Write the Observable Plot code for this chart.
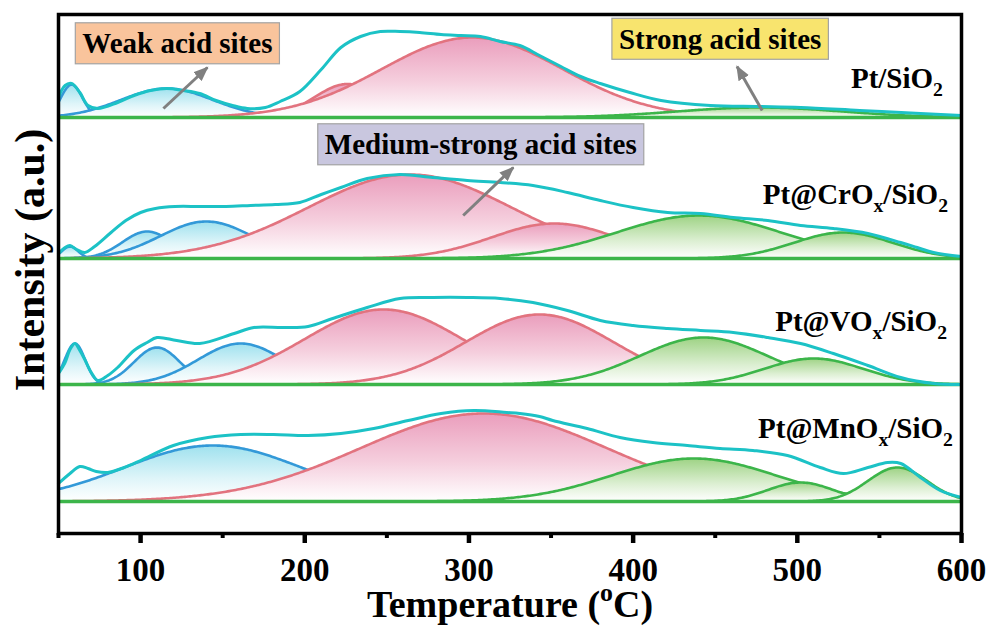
<!DOCTYPE html>
<html>
<head>
<meta charset="utf-8">
<script src="https://cdn.jsdelivr.net/npm/d3@7"></script>
<script src="https://cdn.jsdelivr.net/npm/@observablehq/plot@0.6"></script>
<style>
  html, body { margin: 0; padding: 0; background: #fff; overflow: hidden; }
  #chart { width: 993px; height: 626px; }
</style>
</head>
<body>
<div id="chart"></div>
<script>
// NH3-TPD profiles of four catalysts with their deconvoluted acid-site components.

const temperatureTicks = [100, 200, 300, 400, 500, 600];
const minorTicks = [50, 150, 250, 350, 450, 550];
const samples = ["Pt/SiO_2", "Pt@CrO_x/SiO_2", "Pt@VO_x/SiO_2", "Pt@MnO_x/SiO_2"];
const siteLabels = ["Weak acid sites", "Medium-strong acid sites", "Strong acid sites"];

// Measured desorption signals (temperature in °C, intensity in a.u.)
const ptSiO2Temp = [50, 54, 58, 63, 68, 74, 86, 96, 106, 116, 126, 136, 146, 156, 165, 176, 185, 197, 210, 222, 234, 246, 258, 270, 283, 295, 307, 319, 331, 343, 356, 368, 380, 398, 417, 447, 477, 502, 538, 575, 600];
const ptSiO2Signal = [20, 32, 34, 25, 12, 9, 15, 22, 27, 29, 27, 24, 17, 12, 9, 10, 16, 26, 48, 70, 81, 86, 86, 85, 83, 82, 81, 76, 72, 62, 51, 41, 34, 25, 17, 12, 11, 10, 7, 4, 2];

const crTemp = [50, 54, 57, 61, 66, 72, 82, 91, 100, 109, 121, 136, 152, 167, 182, 197, 210, 222, 238, 258, 278, 299, 319, 339, 360, 380, 400, 421, 441, 461, 482, 502, 522, 543, 563, 573, 583, 600];
const crSignal = [5, 11, 13, 9, 6, 12, 26, 38, 46, 50, 52, 52, 52, 53, 54, 56, 64, 71, 80, 84, 81, 78, 76, 73, 66, 58, 51, 46, 45, 41, 38, 33, 30, 25, 16, 11, 6, 2];

const vTemp = [50, 54, 57, 60, 63, 66, 70, 74, 80, 86, 96, 104, 110, 122, 136, 157, 169, 187, 202, 217, 238, 258, 278, 299, 319, 339, 360, 380, 400, 421, 441, 461, 482, 502, 522, 543, 563, 583, 600];
const vSignal = [11, 22, 35, 41, 34, 25, 12, 4, 9, 17, 34, 42, 47, 44, 41, 51, 57, 57, 58, 66, 77, 86, 87, 87, 86, 82, 74, 64, 59, 56, 54, 52, 47, 41, 31, 19, 7, 1, 0];

const mnTemp = [50, 57, 63, 68, 73, 80, 90, 100, 120, 141, 161, 181, 202, 222, 242, 263, 283, 303, 323, 331, 343, 351, 372, 392, 412, 433, 453, 473, 494, 514, 528, 543, 555, 563, 575, 587, 600];
const mnSignal = [18, 28, 35, 33, 30, 29, 34, 41, 56, 64, 67, 67, 66, 68, 73, 81, 88, 91, 89, 88, 85, 81, 73, 64, 59, 56, 53, 51, 46, 34, 28, 34, 39, 38, 24, 11, 4];

// Fitted Gaussian components: centre (°C), height (a.u.), width = standard deviation (°C)
const ptSiO2Peaks = [
  {site: "weak", center: 58, height: 33, width: 6.5},
  {site: "weak", center: 116, height: 29, width: 28},
  {site: "medium", center: 226, height: 33.5, width: 20},
  {site: "medium", center: 302, height: 80, width: 55},
  {site: "strong", center: 477, height: 10, width: 50}
];
const crPeaks = [
  {site: "weak", center: 57, height: 12, width: 5},
  {site: "weak", center: 104, height: 27, width: 15},
  {site: "weak", center: 140, height: 37, width: 28},
  {site: "medium", center: 264, height: 84, width: 62},
  {site: "medium", center: 352, height: 35, width: 38},
  {site: "strong", center: 440, height: 43, width: 50},
  {site: "strong", center: 528, height: 26, width: 30}
];
const vPeaks = [
  {site: "weak", center: 60, height: 41, width: 6.2},
  {site: "weak", center: 110, height: 37, width: 14},
  {site: "weak", center: 161, height: 41, width: 26},
  {site: "medium", center: 248, height: 75, width: 48},
  {site: "medium", center: 343, height: 70, width: 45},
  {site: "strong", center: 443, height: 47, width: 39},
  {site: "strong", center: 510, height: 26, width: 30}
];
const mnPeaks = [
  {site: "weak", center: 144, height: 56, width: 54},
  {site: "medium", center: 309, height: 88, width: 75},
  {site: "strong", center: 437, height: 43, width: 50},
  {site: "strong", center: 502, height: 19, width: 20},
  {site: "strong", center: 561, height: 34, width: 18}
];

// ---- layout ----
const panels = [
  {temp: ptSiO2Temp, signal: ptSiO2Signal, peaks: ptSiO2Peaks},
  {temp: crTemp, signal: crSignal, peaks: crPeaks},
  {temp: vTemp, signal: vSignal, peaks: vPeaks},
  {temp: mnTemp, signal: mnSignal, peaks: mnPeaks}
];
const stackOffsets = [416, 275, 149, 32];      // vertical offset of each stacked profile
const sampleLabelRise = [30, 55, 54, 64];      // label baseline above each profile's baseline
const sampleLabelX = [588.7, 591.8, 591.2, 594.8];
const siteLabelX = [122.4, 307.2, 453];
const siteLabelY = [489.5, 388.5, 494];
const siteBoxFill = ["#f9c49c", "#c9c7df", "#f8e46e"];
const pointerFrom = [[113.9, 425], [296.5, 318], [478.6, 423]];
const pointerTo = [[140.7, 466], [327, 366], [463.3, 467]];

const serif = '"Times New Roman", "Liberation Serif", serif';
const envelopeColor = "#1cc2c6";
const siteStyle = {
  weak: {stroke: "#3399d8", fill: "url(#grad-weak)"},
  medium: {stroke: "#e2737f", fill: "url(#grad-medium)"},
  strong: {stroke: "#3cb54a", fill: "url(#grad-strong)"}
};

const grid = d3.range(50, 600.001, 1);
const component = (p) => grid.map(t => ({t, v: p.height * Math.exp(-((t - p.center) ** 2) / (2 * p.width ** 2))}));

const marks = [];
panels.forEach((panel, i) => {
  const base = stackOffsets[i];
  // each component: gradient fill, then its outline; later fills hide earlier outlines
  panel.peaks.forEach(p => {
    const pts = component(p);
    const s = siteStyle[p.site];
    marks.push(Plot.areaY(pts, {x: "t", y1: base, y2: d => base + d.v, fill: s.fill}));
    marks.push(Plot.line(pts, {x: "t", y: d => base + d.v, stroke: s.stroke, strokeWidth: 2.6}));
  });
  marks.push(Plot.ruleY([base], {stroke: siteStyle.strong.stroke, strokeWidth: 3.6}));
  const env = panel.temp.map((t, k) => ({t, v: base + panel.signal[k]}));
  marks.push(Plot.line(env, {x: "t", y: "v", curve: "catmull-rom", stroke: envelopeColor, strokeWidth: 3}));
});

marks.push(
  Plot.text(samples, {
    x: (d, i) => sampleLabelX[i], y: (d, i) => stackOffsets[i] + sampleLabelRise[i], text: d => d,
    textAnchor: "end", lineAnchor: "bottom", fontSize: 29, fontWeight: "bold", fill: "black"
  }),
  Plot.text(siteLabels, {
    x: (d, i) => siteLabelX[i], y: (d, i) => siteLabelY[i], text: d => d,
    fontSize: 29, fontWeight: "bold", fill: "black"
  }),
  Plot.link(siteLabels, {
    x1: (d, i) => pointerFrom[i][0], y1: (d, i) => pointerFrom[i][1],
    x2: (d, i) => pointerTo[i][0], y2: (d, i) => pointerTo[i][1],
    stroke: "#808080", strokeWidth: 3
  }),
  Plot.frame({stroke: "black", strokeWidth: 3.5}),
  Plot.axisX(temperatureTicks, {tickSize: 10, tickPadding: 14, strokeWidth: 4.5, fontSize: 33, fontWeight: "bold", label: null}),
  Plot.axisX(minorTicks, {tickSize: 5, strokeWidth: 4, tickFormat: () => "", label: null}),
  Plot.text(["Temperature (^oC)"], {frameAnchor: "bottom", dy: 83, lineAnchor: "bottom", fontSize: 38, fontWeight: "bold", fill: "black"}),
  Plot.text(["Intensity (a.u.)"], {frameAnchor: "left", textAnchor: "middle", dx: -28, dy: -14, rotate: -90, fontSize: 42, fontWeight: "bold", fill: "black"})
);

const chart = Plot.plot({
  width: 993,
  height: 626,
  marginLeft: 58,
  marginRight: 32,
  marginTop: 14,
  marginBottom: 93,
  x: {domain: [50, 600]},
  y: {domain: [0, 519], axis: null},
  style: {fontFamily: serif, fontWeight: "bold", background: "white", color: "black", overflow: "visible"},
  marks
});
document.getElementById("chart").append(chart);

// ---- gradients and arrowhead ----
const NS = "http://www.w3.org/2000/svg";
const defs = document.createElementNS(NS, "defs");
defs.innerHTML = `
  <linearGradient id="grad-weak" x1="0" y1="0" x2="0" y2="1">
    <stop offset="0" stop-color="#9ee1ee"/><stop offset="0.6" stop-color="#dff5f9"/><stop offset="1" stop-color="#ffffff"/>
  </linearGradient>
  <linearGradient id="grad-medium" x1="0" y1="0" x2="0" y2="1">
    <stop offset="0" stop-color="#ea9dbc"/><stop offset="0.55" stop-color="#f5cedd"/><stop offset="1" stop-color="#ffffff"/>
  </linearGradient>
  <linearGradient id="grad-strong" x1="0" y1="0" x2="0" y2="1">
    <stop offset="0" stop-color="#9dd283"/><stop offset="0.6" stop-color="#dcefd2"/><stop offset="1" stop-color="#ffffff"/>
  </linearGradient>
  <marker id="pointer-head" viewBox="0 0 10 8" refX="9" refY="4" markerWidth="5" markerHeight="4" orient="auto" markerUnits="strokeWidth">
    <path d="M0,0L10,4L0,8z" fill="#808080"/>
  </marker>`;
chart.insertBefore(defs, chart.firstChild);

// arrowheads on the pointer links
chart.querySelectorAll('g[aria-label="link"] path').forEach(p => p.setAttribute("marker-end", "url(#pointer-head)"));

// ---- sub- and superscripts written as _x / ^x ----
function richText(el, size) {
  const raw = el.textContent;
  el.textContent = "";
  let shift = 0;
  const re = /([_^])(.)|([^_^]+)/g;
  let m;
  while ((m = re.exec(raw))) {
    const ts = document.createElementNS(NS, "tspan");
    if (m[3]) {
      ts.textContent = m[3];
      if (shift) ts.setAttribute("dy", -shift);
      shift = 0;
    } else {
      const target = m[1] === "_" ? 0.3 * size : -0.4 * size;
      ts.textContent = m[2];
      ts.setAttribute("font-size", 0.68 * size);
      ts.setAttribute("dy", target - shift);
      shift = target;
    }
    el.appendChild(ts);
  }
}

const allTexts = Array.from(chart.querySelectorAll("text"));
allTexts.forEach(t => {
  const s = t.textContent;
  if (samples.includes(s)) richText(t, 29);
  else if (s.includes("^")) richText(t, 38);
});

// ---- boxes behind the acid-site labels ----
allTexts.forEach(t => {
  const i = siteLabels.indexOf(t.textContent);
  if (i < 0) return;
  const b = t.getBBox();
  const r = document.createElementNS(NS, "rect");
  r.setAttribute("x", b.x - 7);
  r.setAttribute("y", b.y - 4.5);
  r.setAttribute("width", b.width + 14);
  r.setAttribute("height", b.height + 9);
  r.setAttribute("fill", siteBoxFill[i]);
  r.setAttribute("stroke", "#a3a3a3");
  r.setAttribute("stroke-width", 1.2);
  const tr = t.getAttribute("transform");
  if (tr) r.setAttribute("transform", tr);
  t.parentNode.insertBefore(r, t);
});
</script>
</body>
</html>
